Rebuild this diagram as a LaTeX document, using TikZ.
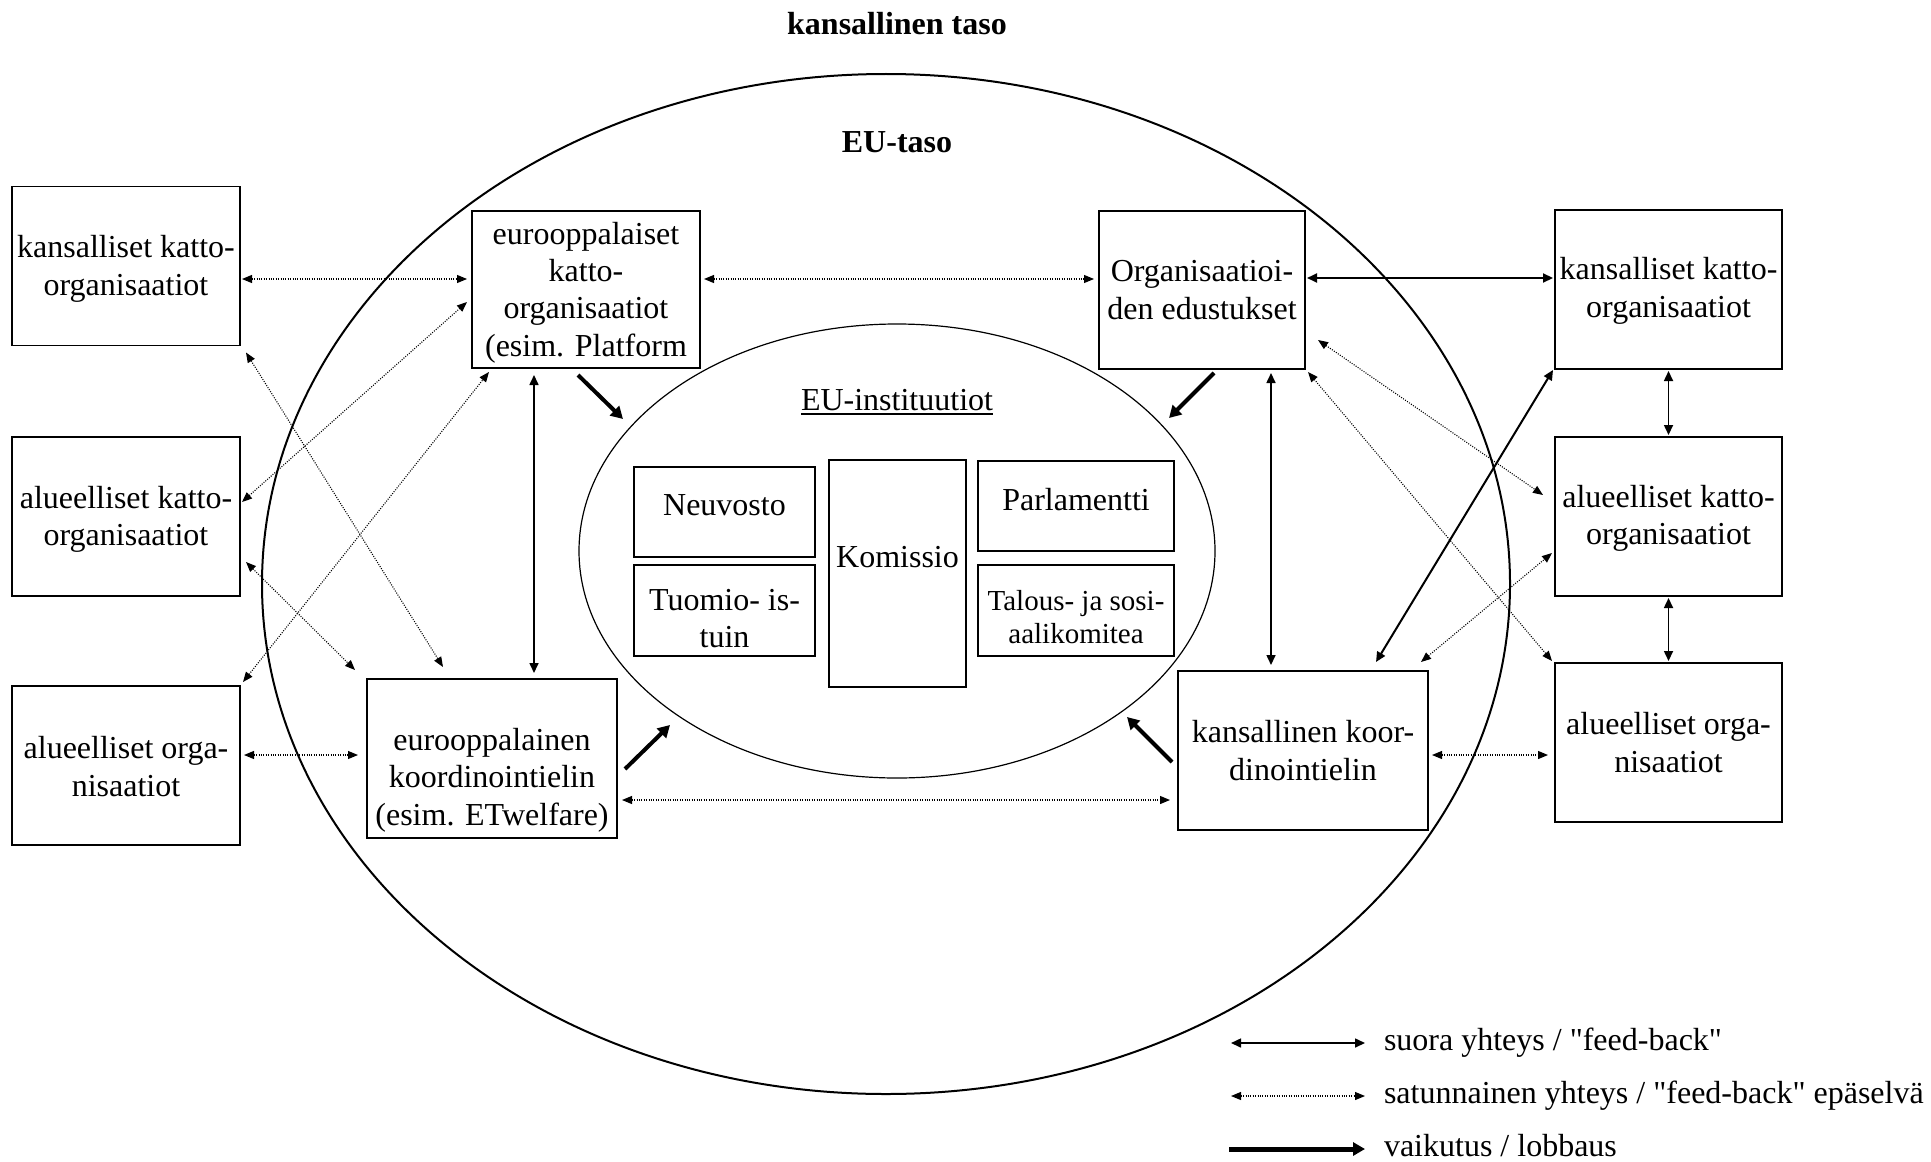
\documentclass[tikz,border=0pt]{standalone}
\usepackage{fontspec}
\setmainfont{Liberation Serif}
\newfontfamily\legfont{Liberation Serif}
\usetikzlibrary{arrows.meta,shapes.geometric,calc}
\newcommand\bodyfont{\fontsize{16pt}{18.7pt}\selectfont}
\newcommand\smallbodyfont{\fontsize{14.5pt}{16.5pt}\selectfont}
\newcommand\myul[1]{\setbox0\hbox{#1}\rlap{\copy0}\rule[-2.5pt]{\wd0}{0.9pt}}
\begin{document}
\begin{tikzpicture}[x=0.5pt,y=-0.5pt,
  every node/.style={font=\bodyfont, inner sep=0pt, outer sep=0pt},
  thinbox/.style={draw, fill=white, line width=0.6pt, align=center},
  thickbox/.style={draw, fill=white, line width=1.15pt, align=center},
  sidebox/.style={thinbox, minimum width=114pt, minimum height=79.5pt},
  instbox/.style={thinbox, minimum width=90.5pt, minimum height=45pt},
  txt/.style={label={[align=center, yshift=#1]center:\boxtext}},
  dotarr/.style={line width=0.55pt, dash pattern=on 0.5pt off 0.7pt,
    {Triangle[length=5pt,width=4pt]}-{Triangle[length=5pt,width=4pt]}},
  solarr/.style={line width=0.8pt,
    {Triangle[length=5pt,width=4.5pt]}-{Triangle[length=5pt,width=4.5pt]}},
  thickarr/.style={line width=2pt, -{Triangle[length=6pt,width=6.5pt]}},
  legtext/.style={anchor=base west, font=\legfont\fontsize{16pt}{18.7pt}\selectfont}
]
\useasboundingbox (0,0) rectangle (1931,1161);

% ellipses
\node[draw, ellipse, line width=1pt, minimum width=624pt, minimum height=510pt] (eu) at (886,584) {};
\node[draw, ellipse, line width=0.6pt, minimum width=318pt, minimum height=227pt] (inst) at (897,551) {};

% titles
\node[anchor=base, font=\bodyfont\bfseries] (nat) at (897,35) {kansallinen taso};
\node[anchor=base, font=\bodyfont\bfseries] (eutaso) at (897,152.5) {EU-taso};
\node[anchor=base] (euinst) at (897,410) {\myul{EU-instituutiot}};

% left column
\node[sidebox, label={[name=l1t, align=center, yshift=-1.5pt]center:kansalliset katto-\\organisaatiot}] (l1) at (126,266) {};
\node[sidebox, label={[name=l2t, align=center, yshift=-1.5pt]center:alueelliset katto-\\organisaatiot}] (l2) at (126,516.5) {};
\node[sidebox, label={[name=l3t, align=center, yshift=-0.5pt]center:alueelliset orga-\\nisaatiot}] (l3) at (126,765.5) {};

% european level boxes
\node[thickbox, minimum width=114pt, minimum height=78.5pt,
  label={[name=e1t, align=center, yshift=-1.5pt]center:eurooppalaiset\\katto-\\organisaatiot\\(esim. Platform}]
  (e1) at (586,289.5) {};
\node[thickbox, minimum width=125pt, minimum height=79.5pt,
  label={[name=e2t, align=center, yshift=-10.8pt]center:eurooppalainen\\koordinointielin\\(esim. ETwelfare)}]
  (e2) at (492,758.5) {};
\node[thickbox, minimum width=103pt, minimum height=79pt] (rorg) at (1202,290)
  {Organisaatioi-\\den edustukset};
\node[thickbox, minimum width=125pt, minimum height=79.5pt] (rkk) at (1303,750.5)
  {kansallinen koor-\\dinointielin};

% right column
\node[sidebox, minimum width=113.5pt, label={[name=rr1t, align=center, yshift=-0.7pt]center:kansalliset katto-\\organisaatiot}] (rr1) at (1668.5,289.5) {};
\node[sidebox, minimum width=113.5pt, label={[name=rr2t, align=center, yshift=-1pt]center:alueelliset katto-\\organisaatiot}] (rr2) at (1668.5,516.5) {};
\node[sidebox, minimum width=113.5pt] (rr3) at (1668.5,742.5) {alueelliset orga-\\nisaatiot};

% EU institutions
\node[instbox, label={[name=neut, yshift=3.3pt]center:Neuvosto}] (neu) at (724.5,512) {};
\node[instbox, minimum height=45.5pt, label={[name=tuot, align=center, yshift=-4pt]center:Tuomio- is-\\tuin}] (tuo) at (724.5,610.5) {};
\node[thinbox, minimum width=68.5pt, minimum height=113.5pt, label={[name=komt, yshift=8.4pt]center:Komissio}] (kom) at (897.5,573.5) {};
\node[instbox, minimum width=98pt, label={[name=part, yshift=3pt]center:Parlamentti}] (par) at (1076,506) {};
\node[instbox, minimum width=98pt, minimum height=45.5pt, label={[name=talt, align=center, font=\smallbodyfont, yshift=-3.3pt]center:Talous- ja sosi-\\aalikomitea}] (tal) at (1076,610.5) {};

% dotted connectors
\draw[dotarr] ([shift={(2,13)}]l1.east) -- ([shift={(-5,-10.5)}]e1.west);
\draw[dotarr] ([shift={(4,-10.5)}]e1.east) -- ([shift={(-5,-11)}]rorg.west);
\draw[dotarr] ([shift={(2,-14.5)}]l2.east) -- ([shift={(-5,12.5)}]e1.west);
\draw[dotarr] ([shift={(3,-4)}]l3.north east) -- ([shift={(17,4)}]e1.south west);
\draw[dotarr] ([shift={(6,7)}]l1.south east) -- ([shift={(-49,-12)}]e2.north);
\draw[dotarr] ([shift={(6,45.5)}]l2.east) -- ([shift={(-12,-9)}]e2.north west);
\draw[dotarr] ([shift={(4,-10.5)}]l3.east) -- ([shift={(-9,-3.5)}]e2.west);
\draw[dotarr] ([shift={(5,41.5)}]e2.east) -- ([shift={(-8,49.5)}]rkk.west);
\draw[dotarr] ([shift={(13,50)}]rorg.east) -- ([shift={(-12,-21.5)}]rr2.west);
\draw[dotarr] ([shift={(3,3)}]rorg.south east) -- ([shift={(-3,-2)}]rr3.north west);
\draw[dotarr] ([shift={(-7,-9)}]rkk.north east) -- ([shift={(-3,36.5)}]rr2.west);
\draw[dotarr] ([shift={(4,4.5)}]rkk.east) -- ([shift={(-7,12.5)}]rr3.west);

% solid connectors
\draw[solarr] ([shift={(-52,7)}]e1.south) -- ([shift={(42,-6)}]e2.north);
\draw[solarr] ([shift={(69,4)}]rorg.south) -- ([shift={(-32,-6)}]rkk.north);
\draw[solarr, line width=1pt] ([shift={(2,-12)}]rorg.east) -- ([shift={(-2,-11.5)}]rr1.west);
\draw[solarr, line width=1pt] ([shift={(73,-9)}]rkk.north) -- ([shift={(-2,1)}]rr1.south west);
\draw[solarr] ([yshift=-1pt]rr1.south) -- ([yshift=1pt]rr2.north);
\draw[solarr] ([yshift=-1pt]rr2.south) -- ([yshift=1pt]rr3.north);

% influence arrows
\coordinate (t1) at (623,419);
\coordinate (t2) at (1169,418);
\coordinate (t3) at (670,725);
\coordinate (t4) at (1127,717);
\draw[thickarr] ([shift={(-8,7)}]e1.south) -- (t1);
\draw[thickarr] ([shift={(12,4)}]rorg.south) -- (t2);
\draw[thickarr] ([shift={(8,10.5)}]e2.east) -- (t3);
\draw[thickarr] ([shift={(-6,11.5)}]rkk.west) -- (t4);

% legend
\coordinate (la1) at (1231,1043); \coordinate (lb1) at (1365,1043);
\coordinate (la2) at (1231,1096); \coordinate (lb2) at (1365,1096);
\coordinate (la3) at (1229,1149); \coordinate (lb3) at (1365,1149);
\draw[solarr] (la1) -- (lb1);
\draw[dotarr] (la2) -- (lb2);
\draw[thickarr, line width=2.5pt] (la3) -- (lb3);
\node[legtext] (lt1) at (1384,1050) {suora yhteys / "feed-back"};
\node[legtext] (lt2) at (1384,1103) {satunnainen yhteys / "feed-back" epäselvä};
\node[legtext] (lt3) at (1384,1156) {vaikutus / lobbaus};
\end{tikzpicture}
\end{document}
